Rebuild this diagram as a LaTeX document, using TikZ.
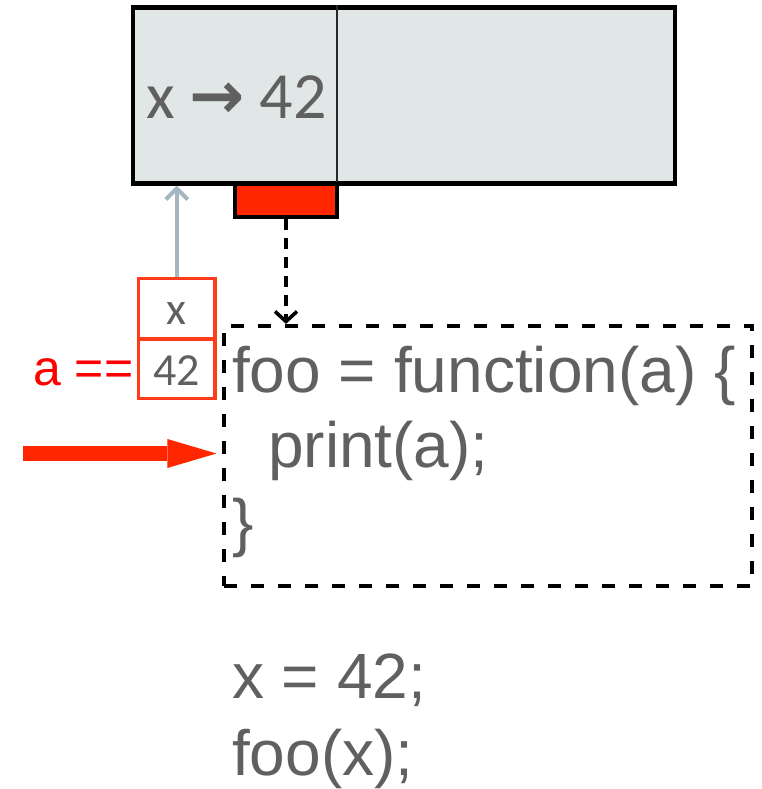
\documentclass[tikz,border=0pt]{standalone}
\usepackage{fontspec}
\setmainfont{Liberation Sans}
\newfontfamily\calfont{Carlito}
\newfontfamily\symfont{DejaVu Sans}
\usetikzlibrary{arrows.meta}
\definecolor{txtgray}{HTML}{606060}
\definecolor{memfill}{HTML}{E1E6E6}
\definecolor{tabred}{HTML}{FF2600}
\definecolor{boxred}{HTML}{FF3B1A}
\definecolor{arrgray}{HTML}{A3B7C0}
\definecolor{lblred}{HTML}{FF0000}
\tikzset{
  membox/.style={rectangle, draw=black, line width=4.2pt, fill=memfill, inner sep=0pt,
    minimum width=542pt, minimum height=176pt},
  divider/.style={draw=black!85, line width=1.6pt},
  tabbox/.style={rectangle, draw=black, line width=4.2pt, fill=tabred, inner sep=0pt,
    minimum width=102pt, minimum height=33pt},
  codebox/.style={rectangle, draw=black, line width=4.2pt, dash pattern=on 13pt off 14pt,
    inner sep=0pt, minimum width=528pt, minimum height=260pt},
  cellbox/.style={rectangle, draw=boxred, line width=3.2pt, fill=white, inner sep=0pt,
    minimum width=76.5pt},
  celltext/.style={inner sep=0pt, anchor=base, text=txtgray, font=\calfont\fontsize{46}{54}\selectfont},
  memtext/.style={inner sep=0pt, anchor=base west, text=txtgray, font=\calfont\fontsize{66}{74}\selectfont},
  codetext/.style={inner sep=0pt, anchor=base west, text=txtgray, font=\fontsize{64}{76}\selectfont},
  lbltext/.style={inner sep=0pt, anchor=base west, text=lblred, font=\fontsize{50}{60}\selectfont},
  dasharrow/.style={draw=black, line width=3.6pt, dash pattern=on 11pt off 8pt,
    -{Straight Barb[length=10pt,width=22pt]}},
  grayarrow/.style={draw=arrgray, line width=4pt, -{Straight Barb[length=11pt,width=22pt]}},
  redarrow/.style={draw=tabred, line width=15pt, shorten >=5.5pt,
    -{Triangle[length=49pt,width=29pt,line width=0pt]}}
}
\begin{document}
\begin{tikzpicture}[x=1pt,y=-1pt]
\useasboundingbox (0,0) rectangle (761,789);

% memory box
\node[membox] (mem) at (404,95.5) {};
\draw[divider] ([xshift=-67pt]mem.north) -- ([xshift=-67pt]mem.south);
\node[memtext] (memtxt) at (146,118) {x {\symfont\bfseries →} 42};

% red tab
\node[tabbox] (tab) at (286,200.5) {};

% code box
\node[codebox] (code) at (488,456) {};
\draw[dasharrow] (tab.south) -- (tab.south |- code.north);

% argument cells
\node[cellbox, minimum height=60.5pt] (xbox) at (176.75,308.75) {};
\node[cellbox, minimum height=59.5pt] (vbox) at (176.75,368.75) {};
\node[celltext] (xlbl) at (176.75,324) {x};
\node[celltext] (vlbl) at (176.75,385) {42};
\draw[grayarrow] (xbox.north) -- (xbox.north |- mem.south);

\node[lbltext] (aeq) at (33,385) {a ==};

% execution pointer
\coordinate (rstart) at (23,453.5);
\draw[redarrow] (rstart) -- (rstart -| code.west);

% code
\node[codetext] (l1) at (232,392) {foo = function(a) \{};
\node[codetext] (l2) at (268,467) {print(a);};
\node[codetext] (l3) at (232,544) {\}};

\node[codetext] (m1) at (232,698) {x = 42;};
\node[codetext] (m2) at (232,775) {foo(x);};
\end{tikzpicture}
\end{document}
